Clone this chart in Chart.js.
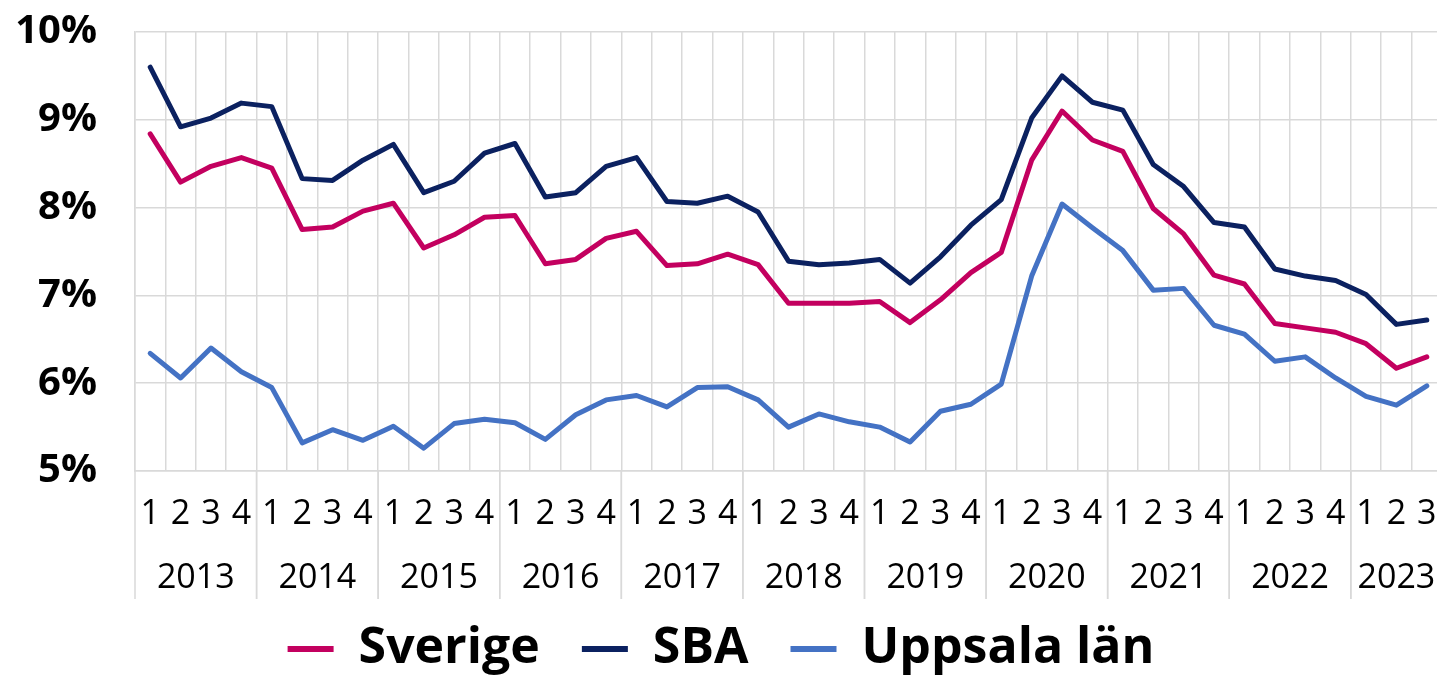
<!DOCTYPE html>
<html>
<head>
<meta charset="utf-8">
<script src="https://cdn.jsdelivr.net/npm/chart.js@4"></script>
<style>
  html, body { margin: 0; padding: 0; background: #fff; overflow: hidden; }
  #wrap { width: 1442px; height: 684px; }
</style>
</head>
<body>
<div id="wrap"><canvas id="ledighetChart"></canvas></div>
<script>
const years = ['2013', '2014', '2015', '2016', '2017', '2018', '2019', '2020', '2021', '2022', '2023'];
const quartersInYear = [4, 4, 4, 4, 4, 4, 4, 4, 4, 4, 3];
const yTicks = [5, 6, 7, 8, 9, 10];

const sverige = [8.84, 8.29, 8.47, 8.57, 8.45, 7.75, 7.78, 7.96, 8.05, 7.54, 7.69, 7.89,
  7.91, 7.36, 7.41, 7.65, 7.73, 7.34, 7.36, 7.47, 7.35, 6.91, 6.91, 6.91,
  6.93, 6.69, 6.95, 7.26, 7.49, 8.54, 9.10, 8.77, 8.64, 7.99, 7.70, 7.23,
  7.13, 6.68, 6.63, 6.58, 6.45, 6.17, 6.30];
const sba = [9.60, 8.92, 9.02, 9.19, 9.15, 8.33, 8.31, 8.54, 8.72, 8.17, 8.30, 8.62,
  8.73, 8.12, 8.17, 8.47, 8.57, 8.07, 8.05, 8.13, 7.95, 7.39, 7.35, 7.37,
  7.41, 7.14, 7.44, 7.80, 8.09, 9.02, 9.50, 9.20, 9.11, 8.49, 8.24, 7.83,
  7.78, 7.30, 7.22, 7.17, 7.01, 6.67, 6.72];
const uppsala = [6.34, 6.06, 6.40, 6.13, 5.95, 5.32, 5.47, 5.35, 5.51, 5.26, 5.54, 5.59,
  5.55, 5.36, 5.64, 5.81, 5.86, 5.73, 5.95, 5.96, 5.81, 5.50, 5.65, 5.56,
  5.50, 5.33, 5.68, 5.76, 5.99, 7.22, 8.04, 7.77, 7.51, 7.06, 7.08, 6.66,
  6.56, 6.25, 6.30, 6.06, 5.85, 5.75, 5.97];

// one category per quarter, e.g. "2013 1"
const categories = years.flatMap((y, i) =>
  ['1', '2', '3', '4'].slice(0, quartersInYear[i]).map(q => y + ' ' + q));

const gridColor = '#d9d9d9';
const fontFamily = "'Open Sans', 'DejaVu Sans', sans-serif";

// year row + separators under the quarter numbers
const yearRow = {
  id: 'yearRow',
  afterDraw(chart) {
    const {ctx, chartArea, scales: {x}} = chart;
    const half = (x.getPixelForValue(1) - x.getPixelForValue(0)) / 2;
    const top = chartArea.bottom;
    ctx.save();
    ctx.strokeStyle = gridColor;
    ctx.lineWidth = 1.5;
    ctx.fillStyle = '#000';
    ctx.font = '34px ' + fontFamily;
    ctx.textAlign = 'center';
    ctx.textBaseline = 'middle';
    let start = 0;
    years.forEach((yr, i) => {
      const end = start + quartersInYear[i] - 1;
      const left = x.getPixelForValue(start) - half;
      const right = x.getPixelForValue(end) + half;
      ctx.beginPath();
      ctx.moveTo(left, top);
      ctx.lineTo(left, top + 128);
      ctx.moveTo(right, top);
      ctx.lineTo(right, top + 128);
      ctx.stroke();
      ctx.fillText(yr, (x.getPixelForValue(start) + x.getPixelForValue(end)) / 2, top + 107);
      start = end + 1;
    });
    ctx.restore();
  }
};

function series(label, data, color) {
  return {
    label: label,
    data: data,
    borderColor: color,
    backgroundColor: color,
    borderWidth: 5,
    pointBorderColor: color,
    pointBorderWidth: 6,
    pointRadius: 0,
    pointHoverRadius: 0
  };
}

const ctx = document.getElementById('ledighetChart').getContext('2d');

new Chart(ctx, {
  type: 'line',
  data: {
    labels: categories,
    datasets: [
      series('Sverige', sverige, '#c3005f'),
      series('SBA', sba, '#0b2160'),
      series('Uppsala län', uppsala, '#4472c4')
    ]
  },
  options: {
    responsive: true,
    maintainAspectRatio: false,
    animation: false,
    layout: { padding: { top: 32, left: 0, right: 0, bottom: 0 } },
    elements: {
      line: { tension: 0, borderCapStyle: 'round', borderJoinStyle: 'round' }
    },
    plugins: {
      legend: {
        position: 'bottom',
        labels: {
          usePointStyle: true,
          pointStyle: 'line',
          pointStyleWidth: 46,
          padding: 42,
          color: '#000',
          font: { family: fontFamily, size: 50, weight: 'bold' }
        }
      },
      tooltip: { enabled: false }
    },
    scales: {
      x: {
        offset: true,
        grid: { offset: true, color: gridColor, lineWidth: 1.5, drawTicks: true, tickLength: 23, tickColor: 'rgba(0,0,0,0)' },
        border: { color: gridColor, width: 1.5 },
        ticks: {
          autoSkip: false,
          maxRotation: 0,
          padding: 0,
          color: '#000',
          font: { family: fontFamily, size: 34 },
          callback: function (value) {
            return this.getLabelForValue(value).split(' ')[1];
          }
        },
        afterFit: (scale) => { scale.height = 111; }
      },
      y: {
        min: yTicks[0],
        max: yTicks[yTicks.length - 1],
        grid: { color: gridColor, lineWidth: 1.5, drawTicks: true, tickLength: 38, tickColor: 'rgba(0,0,0,0)' },
        border: { color: gridColor, width: 1.5 },
        afterBuildTicks: (scale) => { scale.ticks = yTicks.map(v => ({ value: v })); },
        ticks: {
          padding: 0,
          color: '#000',
          font: { family: fontFamily, size: 40, weight: 'bold' },
          callback: (v) => v + '%'
        },
        afterFit: (scale) => { scale.width = 135; }
      }
    }
  },
  plugins: [yearRow]
});
</script>
</body>
</html>
